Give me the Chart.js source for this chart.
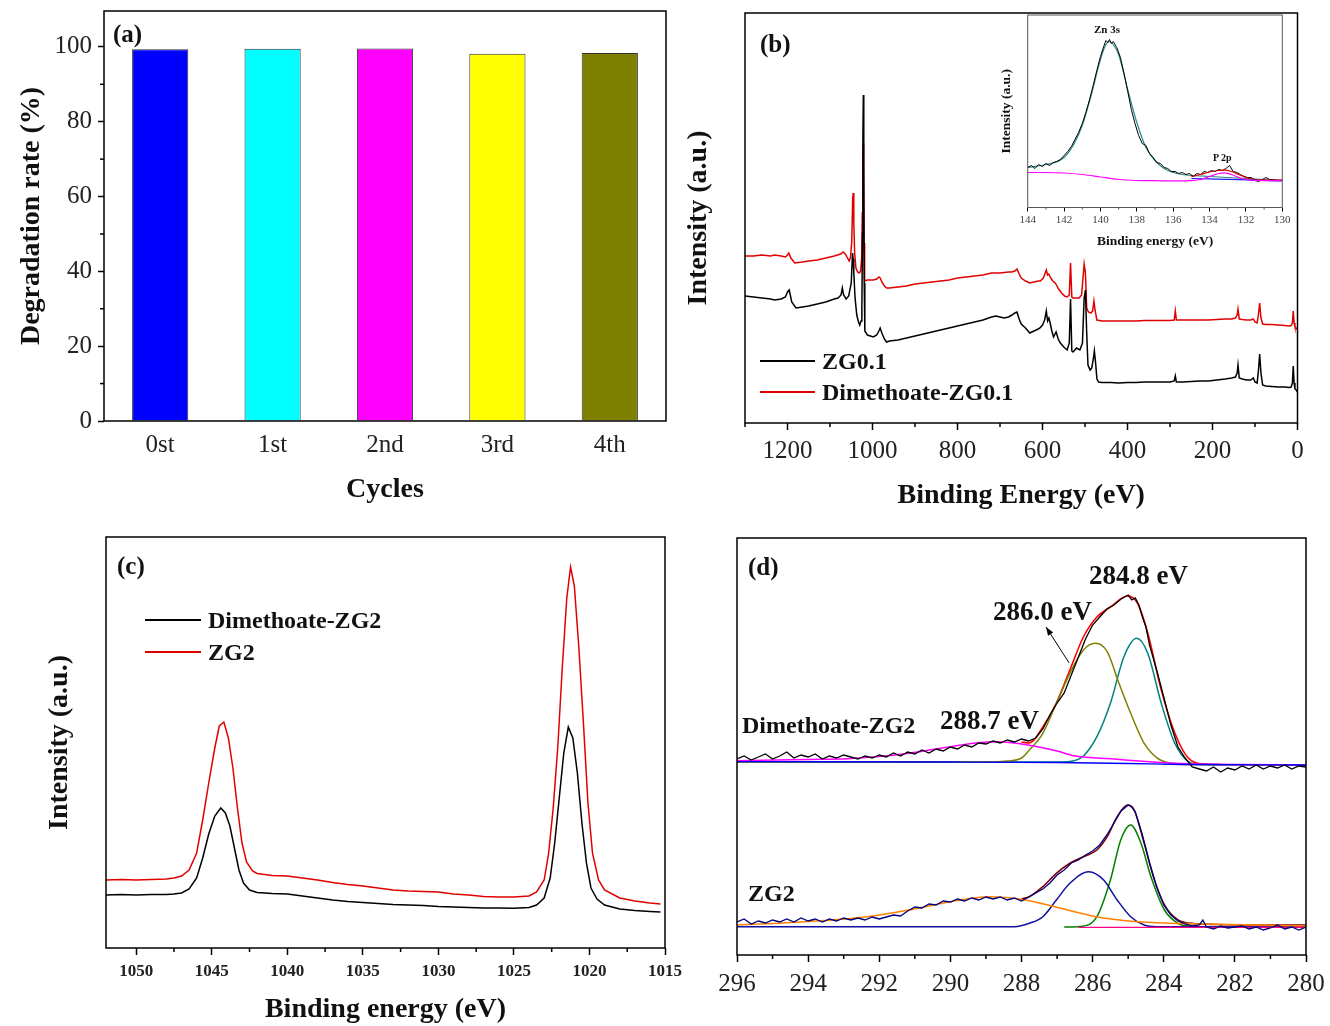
<!DOCTYPE html>
<html>
<head>
<meta charset="utf-8">
<script src="https://cdn.jsdelivr.net/npm/chart.js@4.4.1/dist/chart.umd.min.js"></script>
<style>
  body { margin: 0; background: #fff; width: 1330px; height: 1026px; overflow: hidden; position: relative; }
  canvas { position: absolute; }
  .t { position: absolute; font-family: "Liberation Serif", "Times New Roman", serif; font-weight: bold; color: #111;
       line-height: 1; white-space: nowrap; transform: translateY(-50%); }
  .ln { position: absolute; height: 0; border-top: 2px solid; }
</style>
</head>
<body>
<canvas id="ca" width="680" height="510" style="left:0;top:0"></canvas>
<canvas id="cb" width="650" height="510" style="left:680px;top:0"></canvas>
<canvas id="cbi" width="305" height="248" style="left:990px;top:2px"></canvas>
<canvas id="cd" width="650" height="506" style="left:680px;top:520px"></canvas>
<canvas id="cc" width="700" height="506" style="left:0;top:520px"></canvas>

<div class="t" style="left:113px;top:33px;font-size:25px">(a)</div>
<div class="t" style="left:760px;top:43px;font-size:25px">(b)</div>
<div class="t" style="left:117px;top:565px;font-size:25px">(c)</div>
<div class="t" style="left:748px;top:566px;font-size:25px">(d)</div>

<div class="ln" style="left:760px;top:360px;width:55px;border-color:#000"></div>
<div class="t" style="left:822px;top:361px;font-size:24px">ZG0.1</div>
<div class="ln" style="left:760px;top:391px;width:55px;border-color:#e00000"></div>
<div class="t" style="left:822px;top:392px;font-size:24px">Dimethoate-ZG0.1</div>

<div class="t" style="left:1094px;top:29px;font-size:11px">Zn 3s</div>
<div class="t" style="left:1213px;top:158px;font-size:10px">P 2p</div>

<div class="ln" style="left:145px;top:619px;width:56px;border-color:#000"></div>
<div class="t" style="left:208px;top:620px;font-size:24px">Dimethoate-ZG2</div>
<div class="ln" style="left:145px;top:651px;width:56px;border-color:#e00000"></div>
<div class="t" style="left:208px;top:652px;font-size:24px">ZG2</div>

<div class="t" style="left:742px;top:725px;font-size:24px">Dimethoate-ZG2</div>
<div class="t" style="left:940px;top:720px;font-size:27px">288.7 eV</div>
<div class="t" style="left:993px;top:611px;font-size:27px">286.0 eV</div>
<div class="t" style="left:1089px;top:575px;font-size:27px">284.8 eV</div>
<div class="t" style="left:748px;top:893px;font-size:24px">ZG2</div>

<script>
// ---------- (a) degradation over cycles ----------
const cycles = ["0st", "1st", "2nd", "3rd", "4th"];
const degradation = [99.4, 99.5, 99.6, 98.2, 98.4];
const barColors = ["#0000ff", "#00ffff", "#ff00ff", "#ffff00", "#808000"];
const ticksA = [0, 20, 40, 60, 80, 100];

// ---------- (b) XPS survey, [binding energy, intensity a.u.] ----------
const ticksB = [1200, 1000, 800, 600, 400, 200, 0];
const surveyZG01 = [
  [1300,127],[1280,126],[1260,125],[1240,124],[1230,123],[1215,124],[1205,126],[1200,131],[1196,133],[1190,121],
  [1180,115],[1165,116],[1150,117],[1130,119],[1110,121],[1090,124],[1081,125],[1074,128],[1071,135],[1068,128],
  [1062,124],[1056,127],[1050,140],[1047,170],[1045.5,164],[1044,150],[1041,125],[1037,108],[1033,101],[1030,98],
  [1027,102],[1025,118],[1023.5,190],[1022.5,290],[1021.5,328],[1020.5,260],[1019.5,140],[1018,92],[1012,88],[1005,87],
  [998,86],[990,88],[985,92],[982,95],[978,90],[972,84],[967,81],[960,82],[940,83],[920,85],
  [900,87],[880,89],[860,91],[840,93],[820,95],[800,97],[780,99],[760,101],[740,103],[720,106],
  [710,107],[700,106],[690,105],[680,106],[672,108],[665,110],[660,111],[655,104],[650,99],[645,97],
  [640,95],[630,90],[620,92],[610,94],[606,95],[600,98],[595,103],[591,112],[588,102],[585,105],
  [582,100],[578,92],[574,86],[568,91],[563,84],[558,80],[550,76],[542,73],[537,80],[534,124],
  [531,72],[528,71],[520,75],[512,73],[506,80],[502,125],[499,133],[496,90],[493,58],[488,53],
  [484,55],[480,65],[478,72],[475,60],[472,44],[468,41],[460,40.5],[440,40.5],[420,40],[400,40.5],
  [380,40.5],[360,41],[340,41],[320,41],[300,41],[290,42],[287.5,47],[285,41],[270,41],[250,41.5],
  [230,42],[210,42],[190,43],[170,44],[155,45],[146,46],[142,50],[140,58],[137,45],[130,44],
  [120,43],[110,43],[104,45],[100,41],[95,40],[92,52],[89,69],[86,50],[82,38],[75,37],
  [60,36.5],[45,36],[30,36],[20,35.5],[15,36],[12,40],[10,57],[8,40],[6,34],[3,33],[0,31]
];
const surveyDimZG01 = [
  [1300,167],[1280,167],[1260,168],[1240,167],[1230,168],[1215,167],[1205,166],[1200,168],[1197,170],[1192,165],
  [1183,160],[1165,161],[1150,162],[1130,163],[1110,165],[1090,167],[1075,169],[1069,171],[1064,169],[1060,166],
  [1055,162],[1052,165],[1049,180],[1046.5,225],[1045.5,230],[1044,200],[1042,170],[1039,155],[1035,151],[1031,150],
  [1028,152],[1025.5,165],[1024,210],[1023,262],[1022,280],[1021,250],[1020,180],[1018.5,142],[1012,143],[1005,143],
  [998,143],[990,144],[985,146],[982,145],[978,141],[972,137],[967,135],[960,135],[940,136],[920,137],
  [900,139],[880,140],[860,141],[840,142],[820,143],[800,145],[780,146],[760,147],[740,148],[720,150],
  [700,150],[680,151],[672,151],[665,152],[660,154],[655,149],[650,145],[640,142],[630,140],[620,141],
  [610,142],[605,142],[598,145],[591,153],[588,148],[585,149],[582,146],[576,142],[570,140],[566,137],
  [562,134],[555,130],[548,127],[542,126],[537,128],[534,160],[531,126],[528,125],[520,125],[514,125],
  [508,128],[502,159],[499,150],[496,115],[492,111],[486,110],[482,112],[479,122],[476,112],[472,103],
  [460,102],[440,102],[420,102],[400,102],[380,102],[360,102.5],[340,102.5],[320,102.5],[300,102.5],[290,103],
  [287.5,112],[285,103],[270,103],[250,103],[230,103],[210,103],[190,103.5],[170,104],[155,104],[146,105],
  [142,108],[140,114],[137,104],[130,103.5],[120,103],[110,103],[104,104],[100,101],[95,100],[92,108],
  [89,120],[86,105],[82,99],[75,98.5],[60,98.5],[45,98],[30,97.5],[20,97],[15,97.5],[12,100],
  [10,112],[8,100],[6,96],[3,95],[0,93.5]
];

// ---------- (b) inset: Zn 3s / P 2p ----------
const ticksInset = [144, 142, 140, 138, 136, 134, 132, 130];
const insetData = [
  [144,40],[143.8,42],[143.6,39],[143.4,43],[143.2,41],[143.0,44],[142.8,42],[142.6,45],[142.4,46],[142.2,48],
  [142.0,52],[141.8,56],[141.6,61],[141.4,68],[141.2,75],[141.0,84],[140.8,95],[140.6,108],[140.4,122],[140.2,137],
  [140.0,151],[139.8,162],[139.7,167],[139.6,165],[139.5,168],[139.4,164],[139.3,166],[139.1,160],[138.9,150],[138.7,134],
  [138.5,116],[138.3,98],[138.1,84],[137.9,72],[137.7,64],[137.5,62],[137.3,54],[137.1,50],[136.9,45],[136.7,44],
  [136.5,40],[136.3,39],[136.1,36],[135.9,36],[135.7,34],[135.5,35],[135.3,33],[135.1,34],[134.9,31],[134.7,34],
  [134.5,33],[134.3,36],[134.1,35],[133.9,37],[133.7,36],[133.5,38],[133.3,37],[133.1,39],[132.9,42],[132.7,36],
  [132.5,35],[132.3,33],[132.1,31],[131.9,30],[131.7,30],[131.5,27],[131.3,26],[131.1,28],[130.9,30],[130.7,28],
  [130.5,28],[130.3,27],[130,27]
];
const insetZn3sFit = [
  [144,40],[143,43],[142.5,45],[142,50],[141.5,62],[141,82],[140.5,113],[140,148],[139.7,163],[139.5,166],
  [139.3,163],[139,153],[138.5,118],[138,85],[137.5,60],[137,47],[136.5,39],[136,35],[135.5,33],[135,32],
  [134,31],[133,30],[132,29],[131,28],[130,27.5]
];
const insetBackground = [
  [144,35],[143,35],[142,34.5],[141,33],[140,30.5],[139,28],[138,27],[137,26.8],[136,26.6],[135,26.8],
  [134.5,28],[134,31],[133.5,34],[133.2,34.6],[132.8,33],[132.4,30],[132,28],[131.5,27],[131,26.8],[130,26.8]
];
const insetP2pFit = [
  [135,31],[134.5,33],[134,35.5],[133.5,37],[133.2,37.3],[132.8,36],[132.4,33],[132,30],[131.5,28],[131,27.5],[130,27.3]
];
const insetBaseline = [[135,29],[134,28.6],[133,28.2],[132,27.6],[131,27],[130,26.6]];

// ---------- (c) Zn 2p ----------
const ticksC = [1050, 1045, 1040, 1035, 1030, 1025, 1020, 1015];
const zn2pDimZG2 = [
  [1052,53],[1051,53.5],[1050,53],[1049,53.5],[1048,53.5],[1047.5,54],[1047,55],[1046.5,59],[1046,70],[1045.6,90],
  [1045.2,114],[1044.8,132],[1044.4,140],[1044.1,135],[1043.8,122],[1043.5,100],[1043.2,78],[1042.9,65],[1042.5,58],[1042,55.5],
  [1041,54.5],[1040,54],[1039,52],[1038,50],[1037,48],[1036,46.5],[1035,45.5],[1034,44.5],[1033,43.5],[1032,43],
  [1031,42.5],[1030,41.5],[1029,41],[1028,40.5],[1027,40],[1026,40],[1025,39.7],[1024,40.5],[1023.5,43],[1023,50],
  [1022.6,70],[1022.3,105],[1022,150],[1021.7,195],[1021.4,221],[1021.1,210],[1020.8,175],[1020.5,125],[1020.2,85],[1019.9,60],
  [1019.5,49],[1019,43],[1018,39],[1017,37.5],[1016,36.5],[1015.3,36]
];
const zn2pZG2 = [
  [1052,68],[1051,68.5],[1050,68],[1049,68.5],[1048,69],[1047.5,70],[1047,72],[1046.5,78],[1046,95],[1045.6,128],
  [1045.2,165],[1044.8,200],[1044.5,222],[1044.2,226],[1043.9,210],[1043.6,180],[1043.3,140],[1043.0,105],[1042.7,86],[1042.3,77],
  [1042,74.5],[1041,72.5],[1040,72],[1039,70],[1038,68],[1037,65.5],[1036,63.5],[1035,62],[1034,60],[1033,58],
  [1032,57],[1031,56.5],[1030,56],[1029,54],[1028,53],[1027,51.5],[1026,51],[1025,51],[1024,52],[1023.5,56],
  [1023,68],[1022.7,95],[1022.4,140],[1022.1,200],[1021.8,280],[1021.5,350],[1021.25,381],[1021,362],[1020.7,300],[1020.4,225],
  [1020.1,145],[1019.8,95],[1019.4,68],[1019,58],[1018,50],[1017,47],[1016,45],[1015.3,44]
];

// ---------- (d) C 1s ----------
const ticksD = [296, 294, 292, 290, 288, 286, 284, 282, 280];
const c1sDimZG2 = [
  [296,196],[295.8,199],[295.6,195],[295.4,198],[295.2,201],[295,196],[294.8,199],[294.6,203],[294.4,197],[294.2,200],
  [294,198],[293.8,201],[293.6,196],[293.4,199],[293.2,197],[293,200],[292.8,198],[292.6,196],[292.4,199],[292.2,197],
  [292,200],[291.8,198],[291.6,202],[291.4,199],[291.2,203],[291,201],[290.8,205],[290.6,202],[290.4,206],[290.2,204],
  [290,208],[289.8,206],[289.6,210],[289.4,208],[289.2,212],[289,211],[288.8,214],[288.6,212],[288.4,215],[288.2,213],
  [288,216],[287.8,214],[287.6,217],[287.4,226],[287.2,240],[287,252],[286.8,262],[286.6,280],[286.4,298],[286.2,316],
  [286,330],[285.8,338],[285.6,346],[285.4,350],[285.2,356],[285,360],[284.9,355],[284.8,357],[284.7,350],[284.6,338],
  [284.5,328],[284.4,310],[284.2,285],[284,258],[283.8,230],[283.6,208],[283.4,197],[283.2,188],[283,186],[282.8,184],
  [282.6,188],[282.4,183],[282.2,187],[282,185],[281.8,189],[281.6,186],[281.4,190],[281.2,186],[281,189],[280.8,187],
  [280.6,190],[280.4,186],[280.2,189],[280,188]
];
const c1sDimEnvelope = [
  [288,213],[287.78,212],[287.4,228],[287.02,252],[286.64,285],[286.26,318],[285.88,338],[285.5,348],[285.02,359],[284.74,352],
  [284.45,322],[284.07,265],[283.69,222],[283.31,197],[282.84,191],[282.4,190.5]
];
const c1sDimPeak286 = [
  [296,193],[290,193],[288.8,193.2],[288.4,194],[288,197],[287.78,205],[287.4,221.7],[287.02,251.7],[286.64,281.7],[286.26,305],
  [285.92,311.7],[285.59,303.3],[285.26,271.7],[284.93,241.7],[284.55,211.7],[284.17,196.7],[283.79,191.7],[283.4,190.5],[280,190]
];
const c1sDimPeak2848 = [
  [296,193],[287,193],[286.64,193.5],[286.26,199],[285.88,218.3],[285.5,251.7],[285.12,298.3],[284.76,316.7],[284.45,301.7],[284.07,251.7],
  [283.69,211.7],[283.31,193.3],[283,190.5],[280,190]
];
const c1sDimPeak2887 = [
  [296,194.3],[294,195.5],[292.9,196.3],[292,198.5],[291.17,201.7],[290,208.3],[289.3,212],[288.71,213.3],[288.2,212],[287.66,209],
  [287,204],[286.49,199],[285.4,196],[284.5,193.5],[283.98,192.3],[283,191],[282,190.5],[280,190]
];
const c1sDimBaseline = [[296,193.3],[290,193],[287,192.5],[285,191.5],[283.5,190.5],[280,190]];

const c1sZG2 = [
  [296,33],[295.8,36],[295.6,31],[295.4,34],[295.2,32],[295,35],[294.8,33],[294.6,36],[294.4,33],[294.2,37],
  [294,34],[293.8,36],[293.6,33],[293.4,36],[293.2,34],[293,37],[292.8,35],[292.6,37],[292.4,35],[292.2,38],
  [292,36],[291.8,38],[291.6,40],[291.4,39],[291.2,44],[291,48],[290.8,47],[290.6,51],[290.4,50],[290.2,54],
  [290,53],[289.8,56],[289.6,54],[289.4,57],[289.2,55],[289,58],[288.8,56],[288.6,58],[288.4,55],[288.2,57],
  [288,54],[287.8,58],[287.6,62],[287.4,66],[287.2,72],[287,80],[286.8,85],[286.6,92],[286.4,95],[286.2,100],
  [286,104],[285.8,110],[285.6,120],[285.4,132],[285.2,144],[285,150],[284.9,148],[284.8,143],[284.6,120],[284.4,92],
  [284.2,68],[284,50],[283.8,40],[283.6,34],[283.4,31],[283.2,29],[283,30],[282.9,35],[282.8,28],[282.6,26],
  [282.4,29],[282.2,27],[282,28],[281.8,29],[281.6,26],[281.4,28],[281.2,25],[281,27],[280.8,30],[280.6,26],
  [280.4,28],[280.2,25],[280,28]
];
const c1sZG2Envelope = [
  [288,56],[287.78,58.3],[287.4,68.3],[287.02,81.7],[286.64,91.7],[286.26,98.3],[285.88,105],[285.59,118.3],[285.31,138.3],[285.02,150],
  [284.83,145],[284.55,111.7],[284.26,75],[283.98,50],[283.6,35],[283.22,31.7],[282.5,30.5],[281,30],[280,30]
];
const c1sZG2Peak286 = [
  [296,28.3],[288.2,28.3],[287.78,31.7],[287.4,38.3],[287.02,55],[286.64,71.7],[286.11,83.3],[285.69,75],[285.31,55],[284.93,38.3],
  [284.55,30],[284.2,28.3],[280,28.3]
];
const c1sZG2Peak285 = [
  [286.8,28],[286.35,28.5],[285.88,38.3],[285.5,75],[285.21,115],[284.93,130],[284.64,111.7],[284.36,78.3],[283.98,45],[283.6,31.7],[283.2,28.3]
];
const c1sZG2Peak289 = [
  [296,30],[294.09,33.3],[292.34,38.3],[291.17,45],[290,53.3],[288.94,58.3],[287.89,55],[287.07,48.3],[285.9,38.3],[284.73,33.3],
  [282.98,31],[280,29]
];
const c1sZG2Baseline = [[286.4,27.7],[280,27.7]];

// ---------- helpers ----------
Chart.defaults.font.family = '"Liberation Serif", "Times New Roman", serif';
Chart.defaults.color = "#222";

const frame = {
  id: "frame",
  afterDatasetsDraw(chart, args, o) {
    const { ctx, chartArea: a } = chart;
    ctx.save();
    ctx.strokeStyle = o.color || "#000";
    ctx.lineWidth = o.width || 1.5;
    (o.minor || []).forEach(m => {
      const s = chart.scales[m.axis];
      const lo = Math.min(s.min, s.max), hi = Math.max(s.min, s.max);
      for (let v = Math.ceil(lo / m.step) * m.step; v <= hi + 1e-9; v += m.step) {
        const r = v / m.major;
        if (Math.abs(r - Math.round(r)) < 1e-6) continue;
        const p = s.getPixelForValue(v);
        ctx.beginPath();
        if (s.isHorizontal()) { ctx.moveTo(p, a.bottom); ctx.lineTo(p, a.bottom + m.len); }
        else { ctx.moveTo(a.left - m.len, p); ctx.lineTo(a.left, p); }
        ctx.stroke();
      }
    });
    if (o.arrow) {
      const x = chart.scales.x, y = chart.scales.y;
      const x0 = x.getPixelForValue(o.arrow.from[0]), y0 = y.getPixelForValue(o.arrow.from[1]);
      const x1 = x.getPixelForValue(o.arrow.to[0]), y1 = y.getPixelForValue(o.arrow.to[1]);
      const ang = Math.atan2(y1 - y0, x1 - x0);
      ctx.lineWidth = 1;
      ctx.beginPath(); ctx.moveTo(x0, y0); ctx.lineTo(x1, y1); ctx.stroke();
      ctx.fillStyle = "#000";
      ctx.beginPath();
      ctx.moveTo(x1, y1);
      ctx.lineTo(x1 - 9 * Math.cos(ang - 0.35), y1 - 9 * Math.sin(ang - 0.35));
      ctx.lineTo(x1 - 9 * Math.cos(ang + 0.35), y1 - 9 * Math.sin(ang + 0.35));
      ctx.closePath(); ctx.fill();
    }
    ctx.lineWidth = o.width || 1.5;
    ctx.strokeRect(a.left, a.top, a.right - a.left, a.bottom - a.top);
    ctx.restore();
  }
};

function xy(pairs) { return pairs.map(p => ({ x: p[0], y: p[1] })); }
function series(pairs, color, width, smooth) {
  return {
    data: xy(pairs), borderColor: color, borderWidth: width, pointRadius: 0, fill: false,
    tension: 0, cubicInterpolationMode: smooth ? "monotone" : "default"
  };
}
// fixed axis sizes so the plot boxes land where the figure has them
function fixH(h) { return s => { s.height = h; s.paddingLeft = 0; s.paddingRight = 0; }; }
function fixW(w) { return s => { s.width = w; s.paddingTop = 0; s.paddingBottom = 0; }; }

function energyAxis(min, max, ticks, opts) {
  return {
    type: "linear", min: min, max: max, reverse: true,
    afterBuildTicks: s => { s.ticks = ticks.map(v => ({ value: v })); },
    grid: { drawOnChartArea: false, tickLength: opts.tickLen, tickWidth: opts.tickW || 1.5, tickColor: "#000" },
    border: { display: false },
    ticks: { font: opts.font, color: opts.color || "#222", padding: opts.pad, maxRotation: 0, autoSkip: false,
             callback: v => String(v) },
    title: opts.title ? { display: true, text: opts.title, color: "#111", font: opts.titleFont, padding: opts.titlePad } : { display: false },
    afterFit: fixH(opts.height)
  };
}
function blankY(max, width, title, titleFont, titlePad) {
  return {
    min: 0, max: max,
    grid: { display: false, drawTicks: false }, border: { display: false },
    ticks: { display: false },
    title: title ? { display: true, text: title, color: "#111", font: titleFont, padding: titlePad } : { display: false },
    afterFit: fixW(width)
  };
}
const bigTitle = { size: 28, weight: "bold", lineHeight: 1 };
const base = { animation: false, responsive: false, events: [] };

// ---------- (a) ----------
new Chart(document.getElementById("ca"), {
  type: "bar",
  data: {
    labels: cycles,
    datasets: [{ data: degradation, backgroundColor: barColors, borderColor: "#333", borderWidth: 1,
                 barPercentage: 0.5, categoryPercentage: 1 }]
  },
  options: Object.assign({}, base, {
    layout: { padding: { top: 11, right: 14, left: 0, bottom: 0 } },
    plugins: { legend: { display: false }, tooltip: { enabled: false },
               frame: { minor: [{ axis: "y", step: 10, major: 20, len: 4 }] } },
    scales: {
      x: {
        grid: { display: false, drawTicks: false }, border: { display: false },
        ticks: { font: { size: 25 }, padding: 9 },
        title: { display: true, text: "Cycles", color: "#111", font: bigTitle, padding: { top: 0, bottom: 6 } },
        afterFit: fixH(89)
      },
      y: {
        min: 0, max: 109.6,
        afterBuildTicks: s => { s.ticks = ticksA.map(v => ({ value: v })); },
        grid: { drawOnChartArea: false, tickLength: 6, tickWidth: 1.5, tickColor: "#000" },
        border: { display: false },
        ticks: { font: { size: 25 }, padding: 6 },
        title: { display: true, text: "Degradation rate (%)", color: "#111", font: bigTitle, padding: { top: 18, bottom: 0 } },
        afterFit: fixW(104)
      }
    }
  }),
  plugins: [frame]
});

// ---------- (b) ----------
new Chart(document.getElementById("cb"), {
  type: "line",
  data: { datasets: [series(surveyZG01, "#000", 1.5), series(surveyDimZG01, "#e00000", 1.5)] },
  options: Object.assign({}, base, {
    layout: { padding: { top: 13, right: 32.5, left: 0, bottom: 0 } },
    plugins: { legend: { display: false }, tooltip: { enabled: false },
               frame: { minor: [{ axis: "x", step: 100, major: 200, len: 4 }] } },
    scales: {
      x: energyAxis(0, 1300, ticksB, { tickLen: 7, font: { size: 25 }, pad: 6, height: 87,
                    title: "Binding Energy (eV)", titleFont: bigTitle, titlePad: { top: 0, bottom: 0 } }),
      y: blankY(410, 65, "Intensity (a.u.)", bigTitle, { top: 5, bottom: 0 })
    }
  }),
  plugins: [frame]
});

// ---------- (b) inset ----------
new Chart(document.getElementById("cbi"), {
  type: "line",
  data: { datasets: [
    series(insetBackground, "#ff00ff", 1.2, true),
    series(insetBaseline, "#2020ff", 1.2, true),
    series(insetP2pFit, "#e00000", 1.2, true),
    series(insetData, "#000", 1),
    series(insetZn3sFit, "#2a8a8a", 1.2, true)
  ] },
  options: Object.assign({}, base, {
    layout: { padding: { top: 13, right: 12.7, left: 0, bottom: 0 } },
    plugins: { legend: { display: false }, tooltip: { enabled: false },
               frame: { color: "#555", width: 1, minor: [{ axis: "x", step: 1, major: 2, len: 2 }] } },
    scales: {
      x: energyAxis(130, 144, ticksInset, { tickLen: 4, tickW: 1, font: { size: 11 }, color: "#444", pad: 2, height: 42.5,
                    title: "Binding energy (eV)", titleFont: { size: 13.5, weight: "bold", lineHeight: 1 }, titlePad: { top: 0, bottom: 2 } }),
      y: blankY(192.5, 37.7, "Intensity (a.u.)", { size: 13.5, weight: "bold", lineHeight: 1 }, { top: 10, bottom: 0 })
    }
  }),
  plugins: [frame]
});

// ---------- (c) ----------
new Chart(document.getElementById("cc"), {
  type: "line",
  data: { datasets: [series(zn2pDimZG2, "#000", 1.5), series(zn2pZG2, "#e00000", 1.5)] },
  options: Object.assign({}, base, {
    layout: { padding: { top: 17, right: 35, left: 0, bottom: 0 } },
    plugins: { legend: { display: false }, tooltip: { enabled: false },
               frame: { minor: [{ axis: "x", step: 2.5, major: 5, len: 4 }] } },
    scales: {
      x: energyAxis(1015, 1052, ticksC, { tickLen: 7, font: { size: 17, weight: "bold" }, pad: 6, height: 78,
                    title: "Binding energy (eV)", titleFont: bigTitle, titlePad: { top: 0, bottom: 2 } }),
      y: blankY(411, 106, "Intensity (a.u.)", bigTitle, { top: 46, bottom: 0 })
    }
  }),
  plugins: [frame]
});

// ---------- (d) ----------
new Chart(document.getElementById("cd"), {
  type: "line",
  data: { datasets: [
    series(c1sDimZG2, "#000", 1.3),
    series(c1sDimBaseline, "#0000ff", 1.3, true),
    series(c1sDimPeak2887, "#ff00ff", 1.5, true),
    series(c1sDimPeak286, "#808000", 1.5, true),
    series(c1sDimPeak2848, "#008080", 1.5, true),
    series(c1sDimEnvelope, "#ff0000", 1.6, true),
    series(c1sZG2, "#000080", 1.3),
    series(c1sZG2Baseline, "#ff0080", 1.3, true),
    series(c1sZG2Peak289, "#ff8000", 1.6, true),
    series(c1sZG2Peak286, "#1010a0", 1.5, true),
    series(c1sZG2Peak285, "#008000", 1.5, true),
    series(c1sZG2Envelope, "#800000", 1.6, true)
  ] },
  options: Object.assign({}, base, {
    layout: { padding: { top: 18, right: 24, left: 0, bottom: 0 } },
    plugins: { legend: { display: false }, tooltip: { enabled: false },
               frame: { minor: [{ axis: "x", step: 1, major: 2, len: 4 }],
                        arrow: { from: [286.66, 292], to: [287.31, 328] } } },
    scales: {
      x: energyAxis(280, 296, ticksD, { tickLen: 7, font: { size: 25 }, pad: 7, height: 71 }),
      y: blankY(417, 57)
    }
  }),
  plugins: [frame]
});
</script>
</body>
</html>
